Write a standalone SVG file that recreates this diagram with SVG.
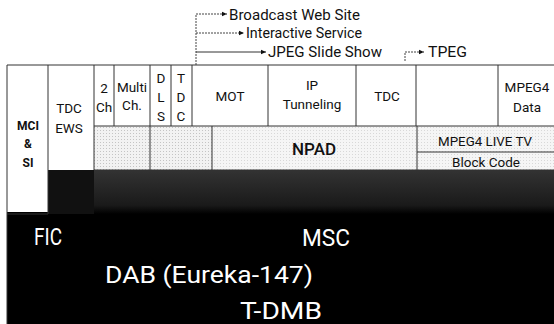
<svg xmlns="http://www.w3.org/2000/svg" width="554" height="324" viewBox="0 0 554 324">
<style>
.ln{stroke:#333;stroke-width:1;fill:none}
.dl{stroke:#444;stroke-width:1;fill:none;stroke-dasharray:2 1}
.t{font-family:Roboto,"Liberation Sans",sans-serif;font-size:13.5px;fill:#111;text-anchor:middle}
.tb{font-family:Roboto,"Liberation Sans",sans-serif;font-size:12px;font-weight:700;fill:#111;text-anchor:middle}
.ta{font-family:Roboto,"Liberation Sans",sans-serif;font-size:14.5px;fill:#111}
.w{font-family:Roboto,"Liberation Sans",sans-serif;font-size:24px;fill:#fff}
</style>
<defs>
<marker id="ah" markerWidth="6" markerHeight="6" refX="5" refY="3" orient="auto" markerUnits="userSpaceOnUse">
<path d="M0,0.8 L5,3 L0,5.2 Z" fill="#111"/>
</marker>
<pattern id="dots" width="3" height="3" patternUnits="userSpaceOnUse">
<rect width="3" height="3" fill="#f5f5f5"/>
<rect x="1" y="1" width="1" height="1" fill="#d8d8d8"/>
</pattern>
<pattern id="dots2" width="3" height="3" patternUnits="userSpaceOnUse">
<rect width="3" height="3" fill="#f2f2f2"/>
<rect x="1" y="1" width="1" height="1" fill="#c4c4c4"/>
</pattern>
<linearGradient id="dk" x1="0" y1="0" x2="0" y2="1">
<stop offset="0" stop-color="#333"/>
<stop offset="0.8" stop-color="#1a1a1a"/>
<stop offset="1" stop-color="#000"/>
</linearGradient>
</defs>
<rect width="554" height="324" fill="#fff"/>
<g id="base">
<rect x="7" y="212" width="547" height="112" fill="#000"/>
<rect x="48" y="170" width="506" height="44" fill="url(#dk)"/>
<rect x="48" y="170" width="46" height="44" fill="#111"/>
</g>
<g id="row2">
<rect x="94" y="126" width="118" height="44" fill="url(#dots2)"/>
<rect x="212" y="126" width="342" height="44" fill="url(#dots)"/>
</g>
<g id="grid">
<path class="ln" d="M7,65 H554 M7,65 V324 M48,65 V214 M7,214 H48 M94,65 V170 M94,126 H554 M114,65 V126 M150,65 V170 M171,65 V126 M192,65 V126 M268,65 V126 M356,65 V126 M416,65 V126 M498,65 V126 M212,126 V170 M417,126 V170 M417,152 H554 M94,170 H554"/>
</g>
<g id="connectors">
<path class="dl" d="M196,65 V14"/>
<path class="dl" d="M196,14 H227" marker-end="url(#ah)"/>
<path class="dl" d="M196,33 H244" marker-end="url(#ah)"/>
<path class="ln" d="M196,52 H266" marker-end="url(#ah)"/>
<path class="dl" d="M405,61 V52 H424" marker-end="url(#ah)"/>
</g>
<g id="labels-top">
<text class="ta" x="229" y="20" textLength="131" lengthAdjust="spacingAndGlyphs">Broadcast Web Site</text>
<text class="ta" x="246" y="38" textLength="116" lengthAdjust="spacingAndGlyphs">Interactive Service</text>
<text class="ta" x="268" y="57" textLength="114" lengthAdjust="spacingAndGlyphs">JPEG Slide Show</text>
<text class="ta" x="428" y="57" textLength="39" lengthAdjust="spacingAndGlyphs">TPEG</text>
</g>
<g id="mci"><text class="tb" x="28" y="130">MCI</text><text class="tb" x="28" y="148">&amp;</text><text class="tb" x="28" y="167">SI</text></g>
<g id="tdcews"><text class="t" x="69" y="113">TDC</text><text class="t" x="69" y="133">EWS</text></g>
<g id="ch2"><text class="t" x="104" y="93">2</text><text class="t" x="104" y="112">Ch</text></g>
<g id="multich"><text class="t" x="132" y="92">Multi</text><text class="t" x="132" y="110">Ch.</text></g>
<g id="dls"><text class="t" x="161" y="83">D</text><text class="t" x="161" y="102">L</text><text class="t" x="161" y="121">S</text></g>
<g id="tdc1"><text class="t" x="181" y="83">T</text><text class="t" x="181" y="102">D</text><text class="t" x="181" y="121">C</text></g>
<g id="mot"><text class="t" x="230" y="101">MOT</text></g>
<g id="ip"><text class="t" x="312" y="90">IP</text><text class="t" x="312" y="109">Tunneling</text></g>
<g id="tdc2"><text class="t" x="387" y="101">TDC</text></g>
<g id="mpeg4data"><text class="t" x="527" y="92">MPEG4</text><text class="t" x="527" y="112">Data</text></g>
<g id="npad"><text class="t" x="314" y="155" style="font-size:17px;font-weight:500">NPAD</text></g>
<g id="mpeg4live"><text class="t" x="485" y="146" textLength="94" lengthAdjust="spacingAndGlyphs">MPEG4 LIVE TV</text></g>
<g id="blockcode"><text class="t" x="486" y="167">Block Code</text></g>
<g id="fic"><text class="w" x="34" y="245" textLength="28" lengthAdjust="spacingAndGlyphs">FIC</text></g>
<g id="msc"><text class="w" x="302" y="246" textLength="48" lengthAdjust="spacingAndGlyphs">MSC</text></g>
<g id="dab"><text class="w" x="105" y="283" textLength="208" lengthAdjust="spacingAndGlyphs">DAB (Eureka-147)</text></g>
<g id="tdmb"><text class="w" x="240" y="319" textLength="82" lengthAdjust="spacingAndGlyphs">T-DMB</text></g>
</svg>
